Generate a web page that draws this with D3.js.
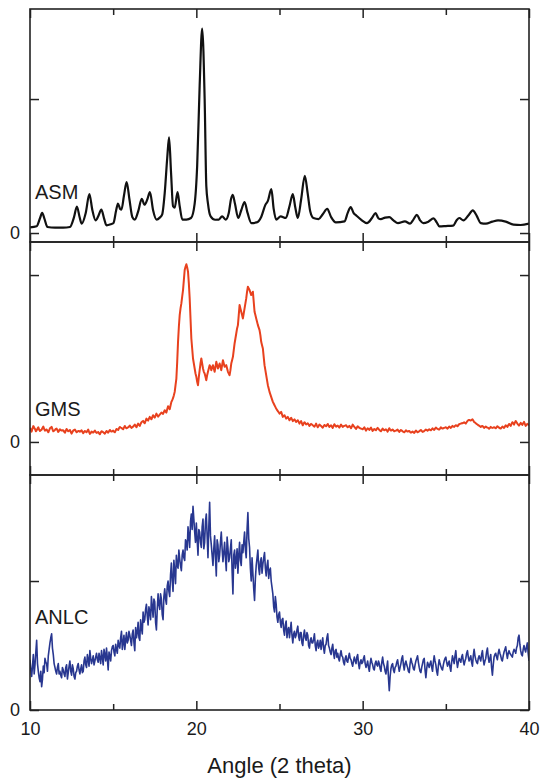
<!DOCTYPE html>
<html>
<head>
<meta charset="utf-8">
<script src="https://cdn.jsdelivr.net/npm/d3@7"></script>
<style>
  html, body { margin: 0; padding: 0; background: #fff; }
  svg { display: block; font-family: "Liberation Sans", Arial, sans-serif; }
</style>
</head>
<body>
<svg id="chart" width="541" height="782"></svg>
<script>
// ---------------- DATA ----------------
const panelNames = ["ASM", "GMS", "ANLC"];
const xTicksMajor = [10, 20, 30, 40];
const xTicksMinor = [15, 25, 35];
const yTickValues = [0, 1000];
const yTickLabels = ["0", ""];
const xTitle = "Angle (2 theta)";

// ASM: smooth diffractogram, read at key points
const asmAngles = [10.0,10.4,10.6,10.73,10.86,11.05,11.5,12.0,12.4,12.65,12.82,12.98,13.11,13.35,13.57,13.75,13.94,14.12,14.29,14.45,14.6,14.85,15.02,15.18,15.29,15.42,15.5,15.65,15.81,15.98,16.15,16.3,16.5,16.72,16.88,17.05,17.21,17.4,17.61,17.8,17.95,18.1,18.25,18.36,18.48,18.6,18.7,18.87,19.0,19.16,19.4,19.68,19.9,20.05,20.2,20.35,20.5,20.6,20.7,20.86,21.13,21.35,21.55,21.76,21.95,22.08,22.19,22.32,22.52,22.7,22.9,23.08,23.31,23.62,23.9,24.15,24.3,24.51,24.65,24.8,25.07,25.38,25.6,25.8,25.95,26.1,26.3,26.52,26.7,26.85,27.04,27.35,27.6,27.87,28.1,28.39,28.91,29.1,29.28,29.45,29.63,29.9,30.26,30.55,30.77,30.95,31.09,31.35,31.6,31.85,32.12,32.54,32.85,33.05,33.26,33.45,33.64,33.95,34.26,34.45,34.61,35.0,35.44,35.65,35.81,36.06,36.35,36.62,36.85,37.1,37.41,37.8,38.14,38.6,39.07,39.5,40.0];
const asmValues = [42,50,110,150,110,45,40,40,45,120,198,120,70,150,290,170,95,130,175,110,57,65,75,170,220,180,175,280,380,250,120,100,160,255,211,250,305,170,100,115,140,300,560,714,450,200,190,305,200,100,100,112,220,500,1100,1526,1000,350,220,124,99,100,125,100,150,250,285,220,112,170,231,150,74,79,120,210,240,327,180,100,124,112,200,290,190,112,250,427,290,160,112,104,140,181,120,79,87,150,194,150,129,100,74,110,149,110,104,115,119,95,74,87,70,100,136,95,74,85,109,80,50,52,55,95,112,94,130,169,130,74,70,85,94,85,62,60,70];

// GMS and ANLC scans: set A read at 10.0, 10.1, ... 40.0; set B read at 10.05, 10.15, ... 39.95
const scanStartA = 10, scanStartB = 10.05, scanStep = 0.1;
const gmsValuesA = [
  85,62,95,78,70,88,66,74,92,68,
  75,58,82,90,64,72,80,60,76,68,
  70,55,78,64,72,50,68,74,58,66,
  62,70,52,66,58,74,48,62,56,68,
  54,60,46,64,58,50,66,56,72,62,
  68,58,78,72,90,84,76,96,82,88,
  98,84,92,104,88,110,96,118,126,112,
  140,128,150,136,160,146,170,152,164,176,
  168,190,176,214,196,240,262,300,380,600,
  760,830,910,1030,1065,1020,860,620,500,440,
  390,340,430,500,440,410,370,420,460,430,
  460,420,480,440,470,430,490,450,460,420,
  400,470,510,590,650,700,820,780,740,800,
  860,930,910,880,900,780,740,700,670,600,
  560,460,400,340,300,270,240,220,200,185,
  170,180,150,160,140,150,130,145,125,135,
  120,130,110,125,100,118,105,112,96,108,
  100,92,110,88,104,96,86,102,94,108,
  90,100,84,106,92,98,86,104,90,96,
  100,88,96,82,104,90,78,94,84,80,
  76,88,68,82,72,86,66,78,70,84,
  72,64,80,70,76,62,82,68,74,64,
  68,74,60,72,64,58,70,62,66,56,
  62,54,68,58,64,72,60,66,74,68,
  76,70,82,72,86,78,74,88,80,84,
  88,80,92,84,96,90,100,94,106,110,
  112,118,110,126,132,128,136,120,112,104,
  98,90,96,84,92,86,80,90,84,88,
  82,94,86,80,92,84,100,90,108,96,
  118,104,126,110,98,114,102,120,96,108,
  100
];
const gmsValuesB = [
  72,80,86,64,80,74,70,84,78,72,
  66,70,86,76,68,78,70,68,72,70,
  62,68,70,68,60,60,72,66,62,66,
  66,60,60,62,66,60,54,58,62,60,
  56,52,56,62,54,58,60,64,66,64,
  62,68,74,82,86,80,86,88,84,92,
  90,88,98,96,100,102,108,122,118,126,
  132,140,142,148,152,158,160,158,170,172,
  180,182,196,204,218,250,280,340,480,690,
  800,870,970,1050,1045,950,740,560,470,410,
  360,390,470,470,420,390,400,440,450,445,
  440,450,460,455,450,460,470,455,440,410,
  430,490,550,620,680,760,800,760,770,830,
  900,920,895,890,840,760,720,685,640,580,
  510,430,370,320,285,255,230,210,192,178,
  175,165,155,150,145,140,138,135,130,128,
  125,120,118,112,110,112,108,104,102,104,
  96,100,98,96,100,90,94,98,100,98,
  96,92,96,98,96,92,96,96,94,98,
  94,92,90,92,96,84,86,90,82,78,
  82,78,76,78,80,76,72,74,78,78,
  68,72,74,72,70,72,74,70,70,66,
  70,66,66,68,60,64,66,64,60,58,
  58,62,64,60,68,66,62,70,72,72,
  72,76,76,80,82,76,80,84,82,86,
  84,86,88,90,92,96,98,100,108,112,
  114,114,118,130,130,132,128,116,108,100,
  94,94,90,88,88,84,84,86,86,86,
  88,90,82,86,88,92,96,100,102,108,
  112,116,118,104,106,108,112,108,102,104
];
const anlcValuesA = [
  390,260,430,350,540,300,220,180,340,400,
  360,420,520,590,430,330,280,360,300,250,
  310,260,350,290,380,270,320,240,300,360,
  280,350,300,410,330,390,460,360,420,380,
  440,370,400,460,350,430,480,310,420,460,
  500,420,470,540,480,610,520,470,600,540,
  580,500,620,460,560,680,540,640,760,700,
  820,660,760,880,720,840,620,900,780,860,
  700,940,820,1000,880,1140,920,1080,1200,1100,
  1170,1080,1240,1160,1300,1420,1260,1520,1580,1380,
  1450,1200,1380,1260,1480,1300,1520,1180,1610,1280,
  1120,1350,1040,1280,1200,1380,1150,1300,1080,1260,
  1180,1320,900,1240,1160,1060,1300,1120,1220,1380,
  1180,1530,1260,1000,1060,850,1120,1240,1050,1180,
  1130,1220,1040,1160,1080,1000,900,760,820,680,
  760,640,710,580,690,620,560,680,520,610,
  580,650,540,600,500,620,540,580,480,560,
  520,590,460,540,500,470,560,440,510,590,
  480,430,510,400,470,440,380,460,410,350,
  420,370,440,390,340,410,360,430,320,390,
  370,420,330,380,300,400,350,310,380,340,
  360,300,410,340,280,380,150,320,360,290,
  340,390,300,360,420,310,380,330,290,400,
  350,310,380,420,330,290,360,400,250,370,
  330,380,300,420,350,270,390,340,310,380,
  410,340,380,300,420,360,460,330,400,370,
  430,350,400,460,380,420,340,470,390,360,
  420,380,460,350,400,480,370,430,270,410,
  440,390,470,420,380,450,490,400,460,430,
  410,470,440,500,580,460,420,500,450,520,
  380
];
const anlcValuesB = [
  310,340,280,450,360,250,300,240,290,370,
  300,470,560,480,360,300,330,280,270,330,
  280,330,240,340,300,350,260,290,340,310,
  320,290,380,350,430,340,400,390,350,410,
  390,440,360,410,470,380,400,450,380,490,
  450,510,440,500,560,470,580,540,520,610,
  540,590,520,640,600,560,700,590,680,780,
  730,800,700,800,860,680,780,820,900,740,
  880,860,960,920,1050,1000,1160,980,1120,1240,
  1120,1200,1180,1320,1240,1350,1460,1400,1480,1300,
  1320,1400,1300,1420,1250,1460,1350,1420,1350,1200,
  1250,1180,1320,1150,1300,1250,1220,1180,1340,1150,
  1250,1080,1200,1100,1250,1200,1160,1280,1300,1240,
  1400,1330,1100,1180,940,1020,1180,1100,1150,1060,
  1180,1100,1120,1020,1100,950,800,880,720,740,
  680,700,620,660,560,640,620,580,590,560,
  620,570,600,520,580,560,600,500,540,520,
  550,500,520,480,540,520,480,500,560,500,
  450,480,440,460,410,400,430,420,370,400,
  380,410,400,360,380,380,410,360,370,360,
  400,360,350,330,360,370,320,360,350,380,
  320,370,360,300,330,250,260,350,310,330,
  370,340,330,400,350,360,350,300,360,370,
  320,350,400,370,300,330,390,310,320,350,
  360,330,370,380,300,340,360,320,350,400,
  370,360,330,370,390,420,380,370,390,410,
  380,380,440,410,400,370,420,420,370,400,
  400,430,390,380,450,410,400,330,350,430,
  410,440,440,390,420,470,440,440,440,420,
  450,460,480,560,510,430,470,470,490,440
];

function mergeScan(a, b) {
  return a.map((v, i) => [scanStartA + i * scanStep, v])
    .concat(b.map((v, i) => [scanStartB + i * scanStep, v]))
    .sort((p, q) => p[0] - q[0]);
}

// ---------------- LAYOUT ----------------
const svg = d3.select("#chart");
const left = 30, right = 529;
const panels = [
  { name: panelNames[0], top: 9,   bottom: 242, yMin: -67,  yMax: 1672, color: "#111111", width: 2.2,
    data: asmAngles.map((a, i) => [a, asmValues[i]]), curve: d3.curveMonotoneX, labelY: 199 },
  { name: panelNames[1], top: 242, bottom: 475, yMin: -198, yMax: 1198, color: "#e8411e", width: 2.0,
    data: mergeScan(gmsValuesA, gmsValuesB), curve: d3.curveLinear, labelY: 416 },
  { name: panelNames[2], top: 475, bottom: 710, yMin: 0,    yMax: 1822, color: "#283790", width: 1.6,
    data: mergeScan(anlcValuesA, anlcValuesB), curve: d3.curveLinear, labelY: 624 }
];

const x = d3.scaleLinear().domain([10, 40]).range([left, right]);
const axisColor = "#222";

panels.forEach((p, k) => {
  const y = d3.scaleLinear().domain([p.yMin, p.yMax]).range([p.bottom, p.top]);
  const g = svg.append("g");

  const clipId = "clip" + k;
  svg.append("clipPath").attr("id", clipId)
    .append("rect").attr("x", left).attr("y", p.top).attr("width", right - left).attr("height", p.bottom - p.top);

  const line = d3.line().x(d => x(d[0])).y(d => y(d[1])).curve(p.curve);
  g.append("path").datum(p.data)
    .attr("clip-path", `url(#${clipId})`)
    .attr("fill", "none").attr("stroke", p.color).attr("stroke-width", p.width)
    .attr("stroke-linejoin", "round")
    .attr("d", line);

  const isLast = k === panels.length - 1;
  const bottomMajor = d3.axisBottom(x).tickValues(xTicksMajor).tickSizeInner(-9).tickSizeOuter(0).tickPadding(12)
    .tickFormat(isLast ? d3.format("d") : () => "");
  const bottomMinor = d3.axisBottom(x).tickValues(xTicksMinor).tickSizeInner(-6).tickSizeOuter(0).tickFormat(() => "");
  const topMajor = d3.axisTop(x).tickValues(xTicksMajor).tickSizeInner(-9).tickSizeOuter(0).tickFormat(() => "");
  const topMinor = d3.axisTop(x).tickValues(xTicksMinor).tickSizeInner(-6).tickSizeOuter(0).tickFormat(() => "");

  [[bottomMajor, p.bottom], [bottomMinor, p.bottom], [topMajor, p.top], [topMinor, p.top]].forEach(([ax, ty]) => {
    const a = g.append("g").attr("transform", `translate(0,${ty})`).call(ax);
    a.select(".domain").remove();
    a.selectAll("line").attr("stroke", axisColor).attr("stroke-width", 1.5);
    a.selectAll("text").attr("fill", "#1a1a1a").style("font-size", "18px").style("font-family", '"Liberation Sans", Arial, sans-serif');
  });

  const yLeft = d3.axisLeft(y).tickValues(yTickValues).tickSizeInner(-9).tickSizeOuter(0).tickPadding(10)
    .tickFormat((d, i) => yTickLabels[i]);
  const yRight = d3.axisRight(y).tickValues(yTickValues).tickSizeInner(-9).tickSizeOuter(0).tickFormat(() => "");
  [[yLeft, left], [yRight, right]].forEach(([ax, tx]) => {
    const a = g.append("g").attr("transform", `translate(${tx},0)`).call(ax);
    a.select(".domain").remove();
    a.selectAll("line").attr("stroke", axisColor).attr("stroke-width", 1.5);
    a.selectAll("text").attr("fill", "#1a1a1a").style("font-size", "18px").style("font-family", '"Liberation Sans", Arial, sans-serif');
  });

  g.append("rect").attr("x", left).attr("y", p.top).attr("width", right - left).attr("height", p.bottom - p.top)
    .attr("fill", "none").attr("stroke", axisColor).attr("stroke-width", 1.6);

  g.append("text").attr("x", 35).attr("y", p.labelY).text(p.name)
    .attr("fill", "#1a1a1a").style("font-size", "20px");
});

svg.append("text").attr("x", (left + right) / 2).attr("y", 773).attr("text-anchor", "middle")
  .attr("fill", "#1a1a1a").style("font-size", "22px").text(xTitle);
</script>
</body>
</html>
